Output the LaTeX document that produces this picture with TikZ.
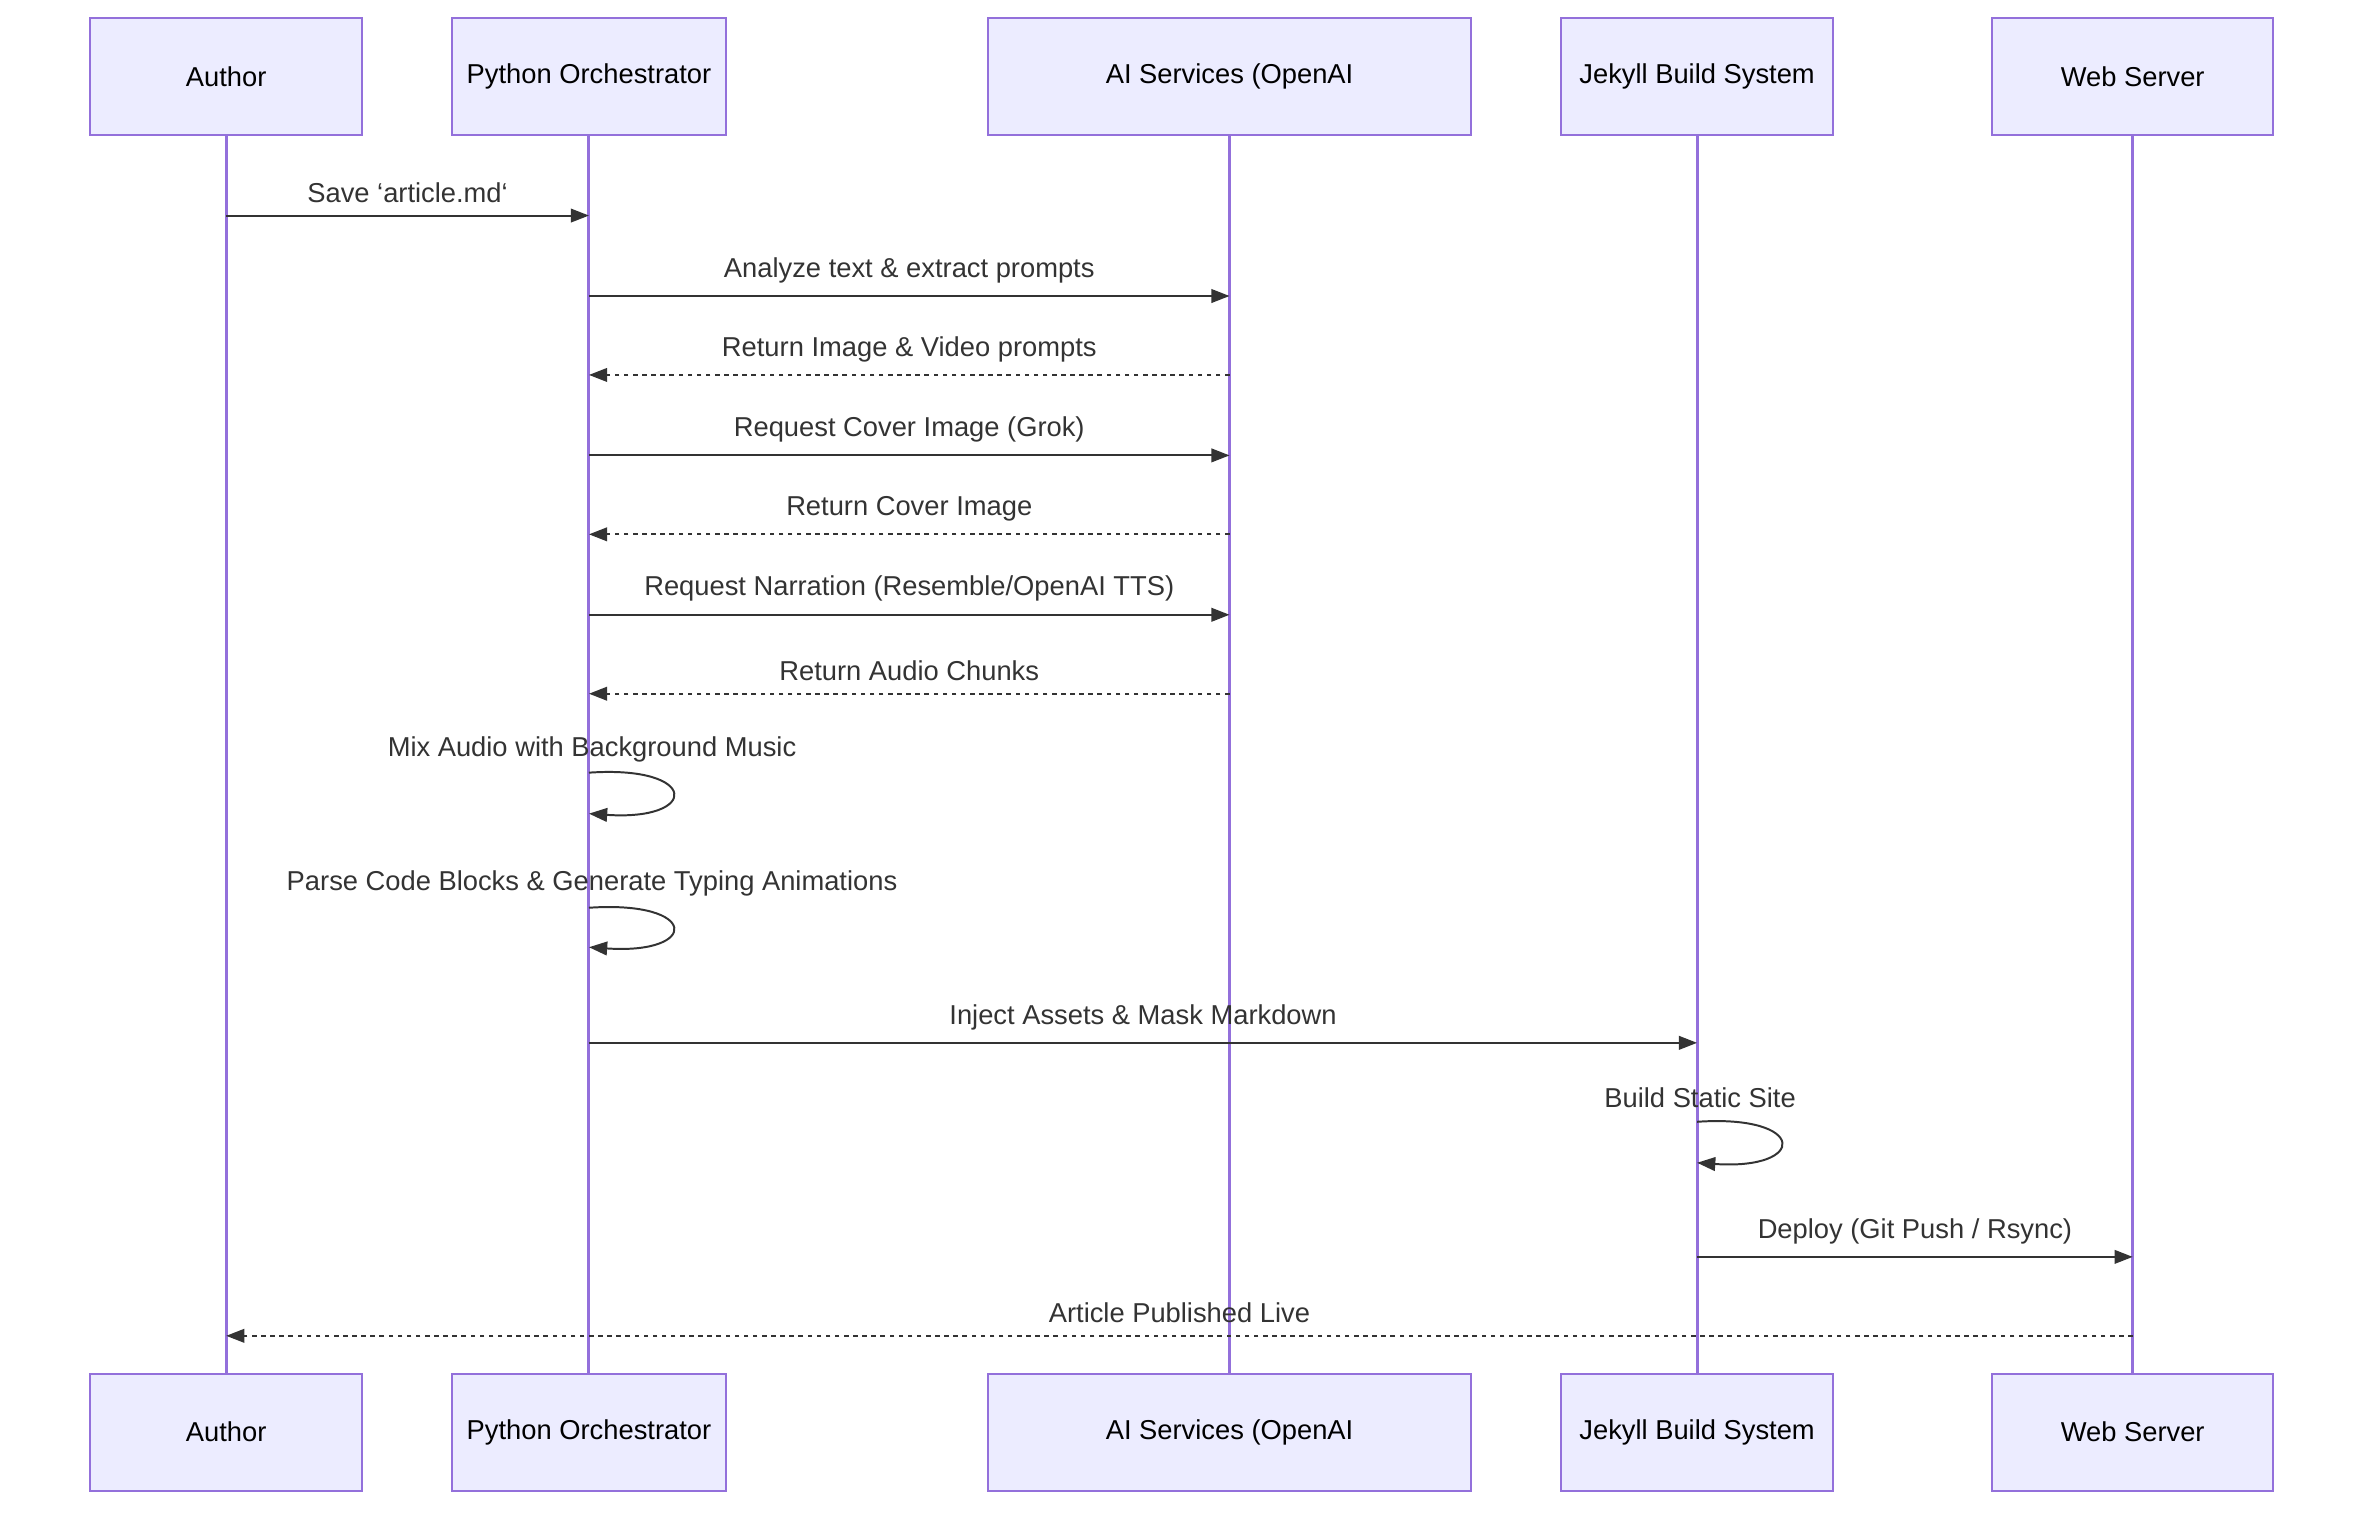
\documentclass[tikz,border=0pt]{standalone}
\usepackage{fontspec}
\setmainfont{Liberation Sans}
\usetikzlibrary{arrows.meta}
\definecolor{boxfill}{HTML}{ECECFF}
\definecolor{boxline}{HTML}{9370DB}
\definecolor{ink}{HTML}{333333}
\begin{document}
\begin{tikzpicture}[x=1pt,y=-1pt,
  actor/.style={draw=boxline,fill=boxfill,line width=1.2pt,minimum height=77pt,inner sep=0pt,font=\fontsize{18}{22}\selectfont,text=black},
  life/.style={draw=boxline,line width=2pt},
  msg/.style={draw=ink,line width=1.3pt,-{Triangle[length=12pt,width=9pt]}},
  rep/.style={msg,dash pattern=on 3pt off 3pt},
  lbl/.style={font=\fontsize{18}{22}\selectfont,text=ink,inner sep=0pt}]
\useasboundingbox (0,0) rectangle (1560,997);
\def\acts{a/149/179/Author,p/388/180/Python Orchestrator,s/810/318/AI Services (OpenAI/Grok/Resemble),j/1118/179/Jekyll Build System,w/1405/185/Web Server / GitHub}
\foreach \n/\x/\w/\t in \acts {
  \node[actor,minimum width=\w pt] (\n T) at (\x,50.5) {\t};
  \node[actor,minimum width=\w pt] (\n B) at (\x,943.5) {\t};
  \draw[life] (\n T.south) -- (\n B.north);
}
\foreach \n/\x in {a/149,p/388,s/810,j/1118,w/1405}{
  \foreach \y in {142,195,247,300,352,405,457,509,536,598,624,687,739,766,828,880}{
    \coordinate (\n\y) at (\x,\y);
  }
}
\draw[msg] (a142) -- node[lbl,above=8pt]{Save `article.md`} (p142);
\draw[msg] (p195) -- node[lbl,above=8pt]{Analyze text \& extract prompts} (s195);
\draw[rep] (s247) -- node[lbl,above=8pt]{Return Image \& Video prompts} (p247);
\draw[msg] (p300) -- node[lbl,above=8pt]{Request Cover Image (Grok)} (s300);
\draw[rep] (s352) -- node[lbl,above=8pt]{Return Cover Image} (p352);
\draw[msg] (p405) -- node[lbl,above=8pt]{Request Narration (Resemble/OpenAI TTS)} (s405);
\draw[rep] (s457) -- node[lbl,above=8pt]{Return Audio Chunks} (p457);
\node[lbl] (l1) at (390,494) {Mix Audio with Background Music};
\draw[msg] (p509) .. controls (461,504) and (461,541) .. (p536);
\node[lbl] (l2) at (390,582) {Parse Code Blocks \& Generate Typing Animations};
\draw[msg] (p598) .. controls (461,593) and (461,629) .. (p624);
\draw[msg] (p687) -- node[lbl,above=8pt]{Inject Assets \& Mask Markdown} (j687);
\node[lbl] (l3) at (1120,723) {Build Static Site};
\draw[msg] (j739) .. controls (1191,734) and (1191,771) .. (j766);
\draw[msg] (j828) -- node[lbl,above=8pt]{Deploy (Git Push / Rsync)} (w828);
\draw[rep] (w880) -- node[lbl,above=8pt]{Article Published Live} (a880);
\end{tikzpicture}
\end{document}
